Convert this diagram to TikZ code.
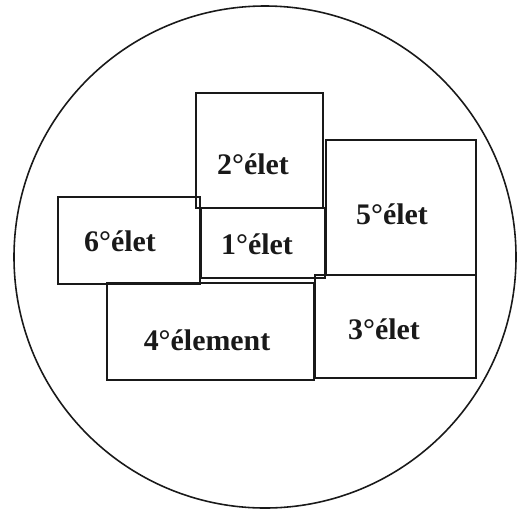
\documentclass[tikz,border=0pt]{standalone}
\usepackage{fontspec}
\setmainfont{Liberation Serif}
\usepackage{tikz}
\usepackage{xcolor}
\definecolor{inkgray}{RGB}{25,25,25}

\begin{document}
\begin{tikzpicture}[x=0.02cm, y=-0.02cm,
  box/.style={draw=inkgray, line width=1.1pt},
  lbl/.style={font=\fontsize{17}{20}\selectfont\bfseries, text=inkgray}]
\useasboundingbox (0,0) rectangle (519,514);
\draw[inkgray, line width=0.9pt] (265,257) circle (251);
\draw[box] (196,93) rectangle (323,208);
\node[lbl] (elet2) at (253,164) {2°élet};
\draw[box] (201,208) rectangle (325,278);
\node[lbl] (elet1) at (257,244) {1°élet};
\draw[box] (58,197) rectangle (200,284);
\node[lbl] (elet6) at (120,241) {6°élet};
\draw[box] (326,140) rectangle (476,275);
\node[lbl] (elet5) at (392,214) {5°élet};
\draw[box] (107,283) rectangle (314,380);
\node[lbl] (elet4) at (207,340) {4°élement};
\draw[box] (315,275) rectangle (476,378);
\node[lbl] (elet3) at (384,329) {3°élet};
\end{tikzpicture}
\end{document}
